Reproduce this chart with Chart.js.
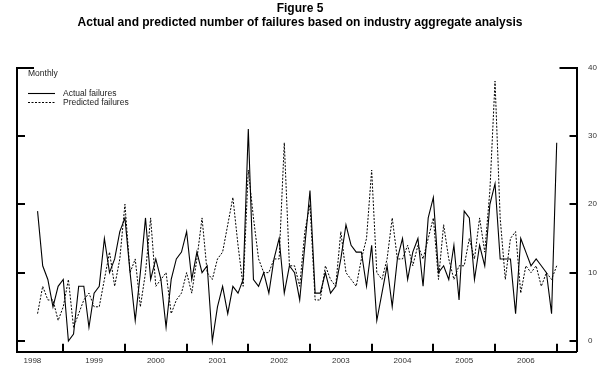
<!DOCTYPE html>
<html>
<head>
<meta charset="utf-8">
<script src="https://cdn.jsdelivr.net/npm/chart.js@4.4.1/dist/chart.umd.min.js"></script>
<style>
  html, body { margin: 0; padding: 0; background: #fff; }
  #wrap { width: 600px; height: 376px; }
</style>
</head>
<body>
<div id="wrap"><canvas id="c" width="600" height="376"></canvas></div>
<script>
// ---- data (monthly, starting August 1998) ----
const firstYear = 1998;
const firstMonth = 8; // August
const actualFailures = [
  19, 11, 9, 5, 8, 9, 0, 1, 8, 8, 2, 7, 8, 15, 10, 12, 16, 18, 10, 3,
  10, 18, 9, 12, 9, 2, 9, 12, 13, 16, 9, 13, 10, 11, 0, 5, 8, 4, 8, 7,
  9, 31, 9, 8, 10, 7, 12, 15, 7, 11, 10, 6, 14, 22, 7, 7, 10, 7, 8, 12,
  17, 14, 13, 13, 8, 14, 3, 7, 11, 5, 12, 15, 9, 13, 15, 8, 18, 21, 10, 11,
  9, 14, 6, 19, 18, 9, 14, 11, 20, 23, 12, 12, 12, 4, 15, 13, 11, 12, 11, 10,
  4, 29
];
const predictedFailures = [
  4, 8, 6, 6, 3, 5, 9, 2, 4, 6, 7, 5, 5, 9, 13, 8, 12, 20, 10, 12,
  5, 10, 18, 8, 9, 10, 4, 6, 7, 10, 7, 12, 18, 10, 9, 12, 13, 17, 21, 14,
  8, 25, 18, 12, 10, 10, 12, 12, 29, 11, 11, 8, 16, 20, 6, 6, 11, 9, 8, 16,
  10, 9, 8, 12, 15, 25, 10, 9, 12, 18, 12, 12, 14, 11, 14, 12, 15, 18, 9, 17,
  12, 9, 11, 11, 15, 12, 18, 13, 22, 38, 18, 9, 15, 16, 7, 11, 10, 11, 8, 10,
  9, 11
];
const yearLabels = ['1998','1999','2000','2001','2002','2003','2004','2005','2006'];
const yTickValues = [0, 10, 20, 30, 40];
const titleLines = ['Figure 5', 'Actual and predicted number of failures based on industry aggregate analysis'];
const frequencyLabel = 'Monthly';

// ---- derived helpers ----
const janIndex = y => (y - firstYear) * 12 - (firstMonth - 1);   // index of January of year y
const yearBoundaries = yearLabels.map(y => janIndex(+y + 1));     // ticks at start of each following year
const yearMidpoints = yearLabels.map(y => janIndex(+y) + 6);
const toPoints = arr => arr.map((v, i) => ({ x: i, y: v }));

const FONT = '"Liberation Sans", Arial, Helvetica, sans-serif';

const axisDecor = {
  id: 'axisDecor',
  afterDraw(chart) {
    const ctx = chart.ctx;
    const a = chart.chartArea;
    const yl = chart.scales.y, x = chart.scales.x;
    ctx.save();
    ctx.strokeStyle = '#000';
    ctx.lineWidth = 2;
    ctx.beginPath();
    yTickValues.forEach(v => {
      const py = Math.round(yl.getPixelForValue(v));
      const lenL = v === 40 ? 17 : 8;
      const lenR = v === 40 ? 17 : 7;
      ctx.moveTo(a.left, py); ctx.lineTo(a.left + lenL, py);
      ctx.moveTo(a.right, py); ctx.lineTo(a.right - lenR, py);
    });
    yearBoundaries.forEach(v => {
      const px = Math.round(x.getPixelForValue(v));
      ctx.moveTo(px, a.bottom); ctx.lineTo(px, a.bottom - 8);
    });
    ctx.stroke();

    // "Monthly" label and legend
    ctx.fillStyle = '#222';
    ctx.font = '8.5px ' + FONT;
    ctx.textAlign = 'left';
    ctx.textBaseline = 'middle';
    ctx.fillText(frequencyLabel, a.left + 11, 74);
    const rows = [93.5, 102.5];
    chart.data.datasets.forEach((ds, k) => {
      const yy = rows[k];
      ctx.save();
      ctx.strokeStyle = ds.borderColor;
      ctx.lineWidth = ds.borderWidth;
      ctx.setLineDash(ds.borderDash || []);
      ctx.beginPath();
      ctx.moveTo(a.left + 11, yy); ctx.lineTo(a.left + 38, yy);
      ctx.stroke();
      ctx.restore();
      ctx.fillText(ds.label, a.left + 46, yy);
    });
    ctx.restore();
  }
};

new Chart(document.getElementById('c'), {
  type: 'line',
  data: {
    datasets: [
      { label: 'Actual failures', data: toPoints(actualFailures), xAxisID: 'x', yAxisID: 'y', borderColor: '#000', borderWidth: 1.1, pointRadius: 0, tension: 0, fill: false },
      { label: 'Predicted failures', data: toPoints(predictedFailures), xAxisID: 'x', yAxisID: 'y', borderColor: '#000', borderWidth: 1, borderDash: [2, 1.5], pointRadius: 0, tension: 0, fill: false }
    ]
  },
  options: {
    responsive: false,
    animation: false,
    devicePixelRatio: 1,
    layout: { padding: 0 },
    plugins: {
      legend: { display: false },
      tooltip: { enabled: false },
      title: {
        display: true,
        text: titleLines,
        color: '#000',
        font: { family: FONT, size: 12, weight: 'bold', lineHeight: 1.2 },
        padding: { top: 1.3, bottom: 37.4 }
      }
    },
    scales: {
      x: {
        type: 'linear',
        position: 'bottom',
        min: -4.0,
        max: 104.85,
        afterBuildTicks: s => { s.ticks = yearMidpoints.map(v => ({ value: v })); },
        afterFit: s => { s.height = 24.3; },
        ticks: {
          autoSkip: false, maxRotation: 0, padding: 4,
          color: '#333', font: { family: FONT, size: 8 },
          callback: (v) => { const k = yearMidpoints.indexOf(v); return k >= 0 ? yearLabels[k] : ''; }
        },
        grid: { display: false, drawTicks: false },
        border: { display: true, color: '#000', width: 2 }
      },
      y: {
        type: 'linear',
        position: 'left',
        min: -1.565,
        max: 40,
        afterBuildTicks: s => { s.ticks = yTickValues.map(v => ({ value: v })); },
        afterFit: s => { s.width = 17; },
        ticks: { display: false },
        grid: { display: false, drawTicks: false },
        border: { display: true, color: '#000', width: 2 }
      },
      yRight: {
        type: 'linear',
        position: 'right',
        min: -1.565,
        max: 40,
        afterBuildTicks: s => { s.ticks = yTickValues.map(v => ({ value: v })); },
        afterFit: s => { s.width = 23.5; },
        ticks: { padding: 11.5, color: '#333', font: { family: FONT, size: 8 } },
        grid: { display: false, drawTicks: false },
        border: { display: true, color: '#000', width: 2 }
      }
    }
  },
  plugins: [axisDecor]
});
</script>
</body>
</html>
